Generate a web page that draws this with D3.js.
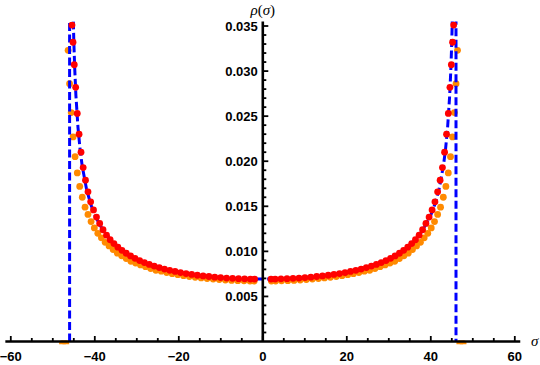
<!DOCTYPE html>
<html><head><meta charset="utf-8">
<script src="https://cdn.jsdelivr.net/npm/d3@7"></script>
<style>html,body{margin:0;padding:0;background:#fff;}svg{display:block;}</style>
</head><body>
<svg id="chart" width="540" height="365"></svg>
<script>
// ---- data ----
const sigmaRed = [-45.434,-45.185,-44.892,-44.555,-44.173,-43.749,-43.280,-42.770,-42.217,-41.622,-40.986,-40.310,-39.594,-38.839,-38.046,-37.215,-36.347,-35.443,-34.505,-33.533,-32.527,-31.489,-30.420,-29.321,-28.194,-27.038,-25.856,-24.648,-23.416,-22.161,-20.884,-19.586,-18.269,-16.934,-15.582,-14.215,-12.834,-11.440,-10.034,-8.619,-7.196,-5.765,-4.329,-2.95,-1.95,
  1.95,2.95,4.329,5.765,7.196,8.619,10.034,11.440,12.834,14.215,15.582,16.934,18.269,19.586,20.884,22.161,23.416,24.648,25.856,27.038,28.194,29.321,30.420,31.489,32.527,33.533,34.505,35.443,36.347,37.215,38.046,38.839,39.594,40.310,40.986,41.622,42.217,42.770,43.280,43.749,44.173,44.555,44.892,45.185,45.434];
const rhoRed = [0.0351,0.0332,0.0307,0.0282,0.0253,0.0230,0.0210,0.0193,0.0179,0.0166,0.0155,0.0146,0.0138,0.0131,0.0124,0.0118,0.01129,0.01086,0.01046,0.01011,0.00979,0.00949,0.00923,0.00898,0.00876,0.00855,0.00837,0.00820,0.00804,0.00790,0.00777,0.00765,0.00754,0.00744,0.00735,0.00728,0.00721,0.00714,0.00709,0.00704,0.00701,0.00697,0.00695,0.00693,0.00692,
  0.00692,0.00693,0.00695,0.00697,0.00701,0.00704,0.00709,0.00714,0.00721,0.00728,0.00735,0.00744,0.00754,0.00765,0.00777,0.00790,0.00804,0.00820,0.00837,0.00855,0.00876,0.00898,0.00923,0.00949,0.00979,0.01011,0.01046,0.01086,0.01129,0.0118,0.0124,0.0131,0.0138,0.0146,0.0155,0.0166,0.0179,0.0193,0.0210,0.0230,0.0253,0.0282,0.0307,0.0332,0.0351];

const sigmaOrange = [-47.7,-46.9,-46.356,-46.008,-45.614,-45.175,-44.692,-44.165,-43.593,-42.979,-42.323,-41.625,-40.885,-40.106,-39.286,-38.428,-37.533,-36.599,-35.630,-34.626,-33.588,-32.516,-31.412,-30.277,-29.113,-27.920,-26.699,-25.452,-24.179,-22.883,-21.565,-20.225,-18.865,-17.486,-16.090,-14.678,-13.252,-11.813,-10.362,-8.901,-7.430,-5.953,-4.470,-3.05,-2.05,
  2.05,3.05,4.470,5.953,7.430,8.901,10.362,11.813,13.252,14.678,16.090,17.486,18.865,20.225,21.565,22.883,24.179,25.452,26.699,27.920,29.113,30.277,31.412,32.516,33.588,34.626,35.630,36.599,37.533,38.428,39.286,40.106,40.885,41.625,42.323,42.979,43.593,44.165,44.692,45.175,45.614,46.008,46.356,46.9,47.7];
const rhoOrange = [-0.00025,-0.00025,0.0323,0.0286,0.0254,0.0227,0.0205,0.0187,0.0172,0.0160,0.0149,0.0141,0.0133,0.0126,0.0120,0.0115,0.0110,0.0106,0.0102,0.0098,0.0095,0.0092,0.0089,0.0087,0.0085,0.0083,0.0081,0.0079,0.0078,0.00765,0.00752,0.00741,0.00730,0.00721,0.00712,0.00705,0.00698,0.00692,0.00687,0.00682,0.00678,0.00675,0.00673,0.00671,0.00670,
  0.00670,0.00671,0.00673,0.00675,0.00678,0.00682,0.00687,0.00692,0.00698,0.00705,0.00712,0.00721,0.00730,0.00741,0.00752,0.00765,0.0078,0.0079,0.0081,0.0083,0.0085,0.0087,0.0089,0.0092,0.0095,0.0098,0.0102,0.0106,0.0110,0.0115,0.0120,0.0126,0.0133,0.0141,0.0149,0.0160,0.0172,0.0187,0.0205,0.0227,0.0254,0.0286,0.0323,-0.00025,-0.00025];

// theoretical density (sampled), including the vertical edges at ±46
const sigmaCurve = [-46,-46,-45.99,-45.9,-45.8,-45.6,-45.4,-45.2,-45.0,-44.8,-44.5,-44,-43.5,-43,-42,-41,-40,-38,-36,-34,-32,-30,-27,-24,-20,-16,-12,-8,-4,0,
  4,8,12,16,20,24,27,30,32,34,36,38,40,41,42,43,43.5,44,44.5,44.8,45.0,45.2,45.4,45.6,45.8,45.9,45.99,46,46];
const rhoCurve = [0,0.5,0.332,0.105,0.0743,0.0526,0.0430,0.03727,0.03337,0.03050,0.02732,0.02373,0.02128,0.01948,0.01697,0.01526,0.01401,0.01228,0.01112,0.01027,0.00963,0.00913,0.00855,0.00811,0.00768,0.00738,0.00717,0.00703,0.00695,0.00692,
  0.00695,0.00703,0.00717,0.00738,0.00768,0.00811,0.00855,0.00913,0.00963,0.01027,0.01112,0.01228,0.01401,0.01526,0.01697,0.01948,0.02128,0.02373,0.02732,0.03050,0.03337,0.03727,0.0430,0.0526,0.0743,0.105,0.332,0.5,0];

const xTickValues = [-60,-40,-20,0,20,40,60];
const xTickLabels = ["\u221260","\u221240","\u221220","0","20","40","60"];
const yTickValues = [0.005,0.010,0.015,0.020,0.025,0.030,0.035];
const yTickLabels = ["0.005","0.010","0.015","0.020","0.025","0.030","0.035"];

// ---- drawing ----
const svg = d3.select("#chart");
const x = d3.scaleLinear().domain([-60,60]).range([10.8,514.8]);
const y = d3.scaleLinear().domain([0,0.0355]).range([341.5,21.5]);

svg.append("defs").append("clipPath").attr("id","clip")
  .append("rect").attr("x",x(-61.5)).attr("y",y(0.0355)).attr("width",x(61.5)-x(-61.5)).attr("height",y(0)-y(0.0355)+2.8);

const plot = svg.append("g").attr("clip-path","url(#clip)");

const orange = sigmaOrange.map((s,i)=>({s, r: rhoOrange[i]}));
const red = sigmaRed.map((s,i)=>({s, r: rhoRed[i]}));
const curve = sigmaCurve.map((s,i)=>({s, r: rhoCurve[i]}));

plot.append("g").selectAll("circle").data(orange).join("circle")
  .attr("cx",d=>x(d.s)).attr("cy",d=>y(d.r)).attr("r",3.4).attr("fill","#ff8a00");

plot.append("path").datum(curve)
  .attr("d", d3.line().x(d=>x(d.s)).y(d=>y(d.r)))
  .attr("fill","none").attr("stroke","#0000ff").attr("stroke-width",3)
  .attr("stroke-dasharray","8,3.5");

plot.append("g").selectAll("circle").data(red).join("circle")
  .attr("cx",d=>x(d.s)).attr("cy",d=>y(d.r)).attr("r",3.4).attr("fill","#ff0000");

// axes
const ax = svg.append("g");
ax.append("line").attr("x1",x(-61.3)).attr("x2",x(61.3)).attr("y1",y(0)).attr("y2",y(0))
  .attr("stroke","#000").attr("stroke-width",2.6);
ax.append("line").attr("x1",x(0)).attr("x2",x(0)).attr("y1",y(0)).attr("y2",y(0.0355))
  .attr("stroke","#000").attr("stroke-width",2.6);

// x ticks
const xMinor = d3.range(-60,60.01,5).filter(v=>!xTickValues.includes(v));
ax.selectAll(".xminor").data(xMinor).join("line")
  .attr("x1",d=>x(d)).attr("x2",d=>x(d)).attr("y1",y(0)).attr("y2",y(0)-3.5)
  .attr("stroke","#000").attr("stroke-width",1.8);
ax.selectAll(".xmajor").data(xTickValues).join("line")
  .attr("x1",d=>x(d)).attr("x2",d=>x(d)).attr("y1",y(0)).attr("y2",y(0)-5.5)
  .attr("stroke","#000").attr("stroke-width",1.8);
ax.selectAll(".xlab").data(xTickValues).join("text")
  .attr("x",d=>x(d)).attr("y",361).attr("text-anchor","middle")
  .attr("font-family","Liberation Sans, Arial, sans-serif").attr("font-size",13).attr("font-weight","bold")
  .text((d,i)=>xTickLabels[i]);

// y ticks
const yMinor = d3.range(1,36).map(v=>v/1000).filter(v=>Math.round(v*1000)%5!==0);
ax.selectAll(".yminor").data(yMinor).join("line")
  .attr("x1",x(0)).attr("x2",x(0)+3.5).attr("y1",d=>y(d)).attr("y2",d=>y(d))
  .attr("stroke","#000").attr("stroke-width",1.8);
ax.selectAll(".ymajor").data(yTickValues).join("line")
  .attr("x1",x(0)).attr("x2",x(0)+5.5).attr("y1",d=>y(d)).attr("y2",d=>y(d))
  .attr("stroke","#000").attr("stroke-width",1.8);
ax.selectAll(".ylab").data(yTickValues).join("text")
  .attr("x",x(0)-5).attr("y",d=>y(d)).attr("dy","0.35em").attr("text-anchor","end")
  .attr("font-family","Liberation Sans, Arial, sans-serif").attr("font-size",13).attr("font-weight","bold")
  .text((d,i)=>yTickLabels[i]);

// axis labels
const yl = svg.append("text").attr("x",x(0)).attr("y",15).attr("text-anchor","middle")
  .attr("font-family","Liberation Serif, serif").attr("font-size",15);
yl.append("tspan").attr("font-style","italic").text("\u03c1");
yl.append("tspan").text("(");
yl.append("tspan").attr("font-style","italic").text("\u03c3");
yl.append("tspan").text(")");
svg.append("text").attr("x",531).attr("y",346).attr("font-family","Liberation Serif, serif")
  .attr("font-size",15).attr("font-style","italic").text("\u03c3");
</script>
</body></html>
